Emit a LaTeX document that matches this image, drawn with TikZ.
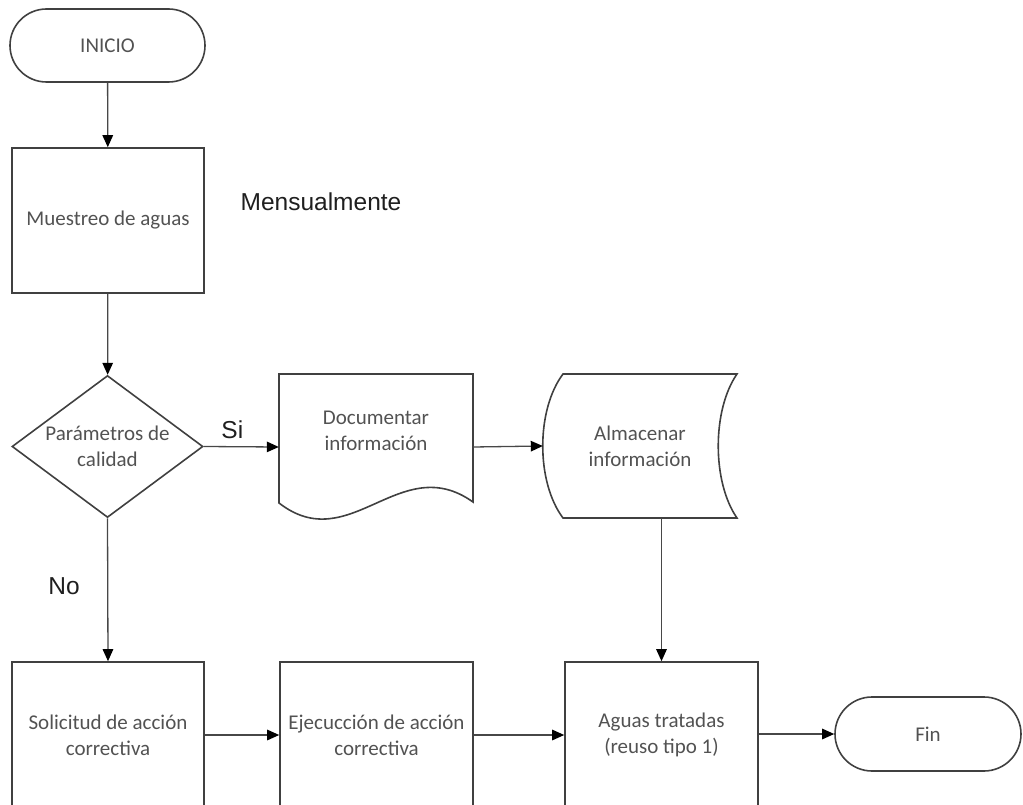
\documentclass[tikz,border=0pt]{standalone}
\usepackage{fontspec}
\setmainfont{Carlito}
\newfontfamily\arialfont{Liberation Sans}
\usetikzlibrary{shapes.geometric,shapes.misc,arrows.meta}

\tikzset{
  outline/.style={draw=black!75,line width=1.6pt},
  boxtext/.style={align=center,text=black!68,font=\fontsize{21}{26}\selectfont},
  procbox/.style={outline,boxtext,rectangle,inner sep=0pt,minimum width=192pt,minimum height=145pt},
  termbox/.style={outline,boxtext,rounded rectangle,rounded rectangle arc length=180,inner sep=0pt,minimum width=195pt,minimum height=73pt},
  decision/.style={outline,boxtext,diamond,shape aspect=1.35,inner sep=0pt,minimum width=191pt,minimum height=142pt},
  hidden/.style={rectangle,inner sep=0pt},
  conn/.style={draw=black!72,line width=1.3pt,-{Triangle[length=12pt,width=10.5pt,color=black]}},
  tag/.style={text=black!88,font=\arialfont\fontsize{24.5}{28}\selectfont,inner sep=0pt}
}

\begin{document}
\begin{tikzpicture}[x=1pt,y=-1pt]
  \clip (0,0) rectangle (1023,805);

  % top column
  \node[termbox] (inicio) at (107.5,45.5) {INICIO};
  \node[procbox] (muestreo) at (108,220.5) {Muestreo de aguas};
  \node[tag] (mensual) at (321,202) {Mensualmente};
  \node[decision] (calidad) at (107.5,446.5) {Parámetros de\\calidad};

  % document shape with wavy bottom
  \node[hidden,minimum width=194pt,minimum height=146pt] (doc) at (376,447) {};
  \draw[outline] (279,503) -- (279,374) -- (473,374) -- (473,502)
    .. controls (400,450) and (350,558) .. cycle;
  \node[boxtext] (doctxt) at (376,431) {Documentar\\información};

  % stored data shape
  \node[hidden,minimum width=194pt,minimum height=144pt] (alm) at (640,446) {};
  \draw[outline] (563,374) -- (737,374)
    .. controls (712,410) and (712,482) .. (737,518) -- (563,518)
    .. controls (536,482) and (536,410) .. cycle;
  \node[boxtext] (almtxt) at (640,446) {Almacenar\\información};

  % bottom row
  \node[procbox,minimum height=146pt] (solicitud) at (108,735) {Solicitud de acción\\correctiva};
  \node[procbox,minimum width=193pt,minimum height=146pt] (ejecucion) at (376.5,735) {Ejecucción de acción\\correctiva};
  \node[procbox,minimum width=193pt,minimum height=146pt] (aguas) at (661.5,735) {Aguas tratadas\\(reuso tipo 1)};
  \node[termbox,minimum width=186pt,minimum height=74pt] (fin) at (928,734) {Fin};

  % connectors
  \draw[conn] (inicio) -- (muestreo);
  \draw[conn] (muestreo) -- (calidad);
  \draw[conn] (calidad.east) -- node[tag,pos=0.38,above=7pt] (si) {Si} (doc.west);
  \draw[conn] (doc.east) -- (alm.west);
  \draw[conn] (calidad.south) -- (solicitud.north);
  \node[tag] (no) at (64,586) {No};
  \draw[conn] (aguas.north |- alm.south) -- (aguas.north);
  \draw[conn] (solicitud) -- (ejecucion);
  \draw[conn] (ejecucion) -- (aguas);
  \draw[conn] (aguas.east |- fin.west) -- (fin.west);
\end{tikzpicture}
\end{document}
